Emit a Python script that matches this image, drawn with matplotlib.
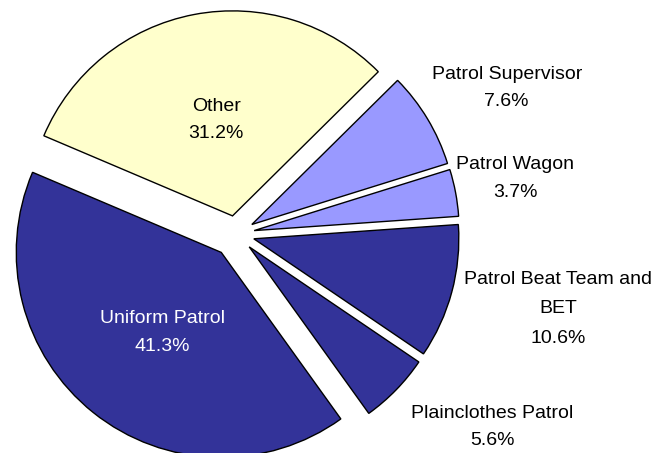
import numpy as np
import matplotlib
matplotlib.use("Agg")
import matplotlib.pyplot as plt

plt.rcParams['font.family'] = ['Liberation Sans', 'DejaVu Sans']

categories = ["Other", "Patrol Supervisor", "Patrol Wagon",
              "Patrol Beat Team and\nBET", "Plainclothes Patrol", "Uniform Patrol"]
values = [31.2, 7.6, 3.7, 10.6, 5.6, 41.3]
colors = ["#FFFFCC", "#9999FF", "#9999FF", "#333399", "#333399", "#333399"]
text_colors = ["black", "black", "black", "black", "black", "white"]

START = 157
explode = [0.09, 0.09, 0.09, 0.09, 0.09, 0.115]
# label placement (radial distance, angle tweak in degrees)
label_dist = [0.565, 1.50, 1.39, 1.615, 1.565, 0.60]
label_dang = [-1, -2.7, 0.6, 2.0, 7.3, 1.8]
label_ls = [1.8, 1.8, 1.8, 1.95, 1.8, 1.8]

fig = plt.figure(figsize=(6.68, 4.53), dpi=100)
ax = fig.add_axes([0, 0, 1, 1])
R = 205.0
cx, cy = 236.0, 234.0

wedges, _ = ax.pie(values, colors=colors, startangle=START, counterclock=False,
                   explode=explode, radius=1.0, center=(0, 0),
                   wedgeprops=dict(edgecolor='black', linewidth=1.0),
                   frame=True)
ax.set_xlim((0 - cx) / R, (668 - cx) / R)
ax.set_ylim((cy - 453) / R, (cy - 0) / R)
ax.set_aspect('equal')
ax.axis('off')

for w, cat, v, d, da, tc, ls in zip(wedges, categories, values, label_dist,
                                    label_dang, text_colors, label_ls):
    ang = np.deg2rad((w.theta1 + w.theta2) / 2 + da)
    x, y = d * np.cos(ang), d * np.sin(ang)
    ax.text(x, y, f"{cat}\n{v:.1f}%", ha='center', va='center', fontsize=14,
            color=tc, linespacing=ls)

fig.savefig("out.png", dpi=100)
